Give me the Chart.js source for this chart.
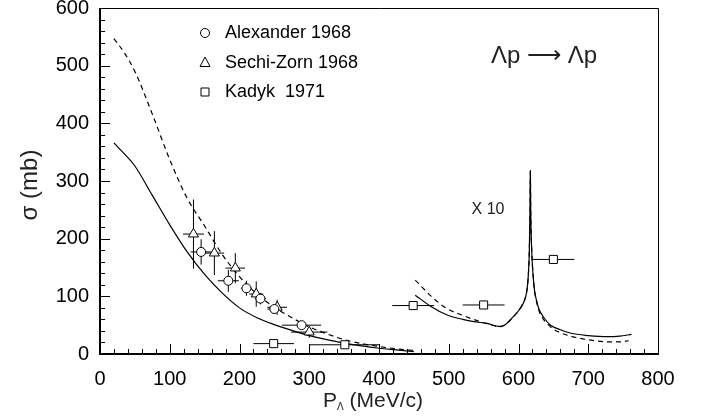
<!DOCTYPE html>
<html>
<head>
<meta charset="utf-8">
<script src="https://cdn.jsdelivr.net/npm/chart.js@4.4.1/dist/chart.umd.min.js"></script>
<style>
  html, body { margin: 0; padding: 0; background: #fff; }
</style>
</head>
<body>
<canvas id="chartSigma" width="701" height="420"></canvas>
<script>
"use strict";

/* Curvas teóricas, zona de baja energía */
var lowP      = [20, 35, 50, 75, 100, 125, 150, 175, 200, 225, 250, 275, 300, 325, 350, 375, 400, 425, 450];
var lowSolid  = [366, 347, 326, 275, 224, 177, 138, 106, 80, 63, 51, 41, 32, 25, 19, 14, 10, 7, 4];
var lowDashed = [547, 522, 490, 416, 337, 270, 222, 173, 134, 104, 81, 63, 47, 35, 25, 18, 13, 9, 6];

/* Curvas teóricas, zona x10 (resonancia) */
var highSolidP = [452, 475, 497, 520, 536, 555, 572, 580, 588, 600, 608, 612, 614, 615.5, 616.5, 617, 617.5, 619, 621, 623, 626, 629, 637, 646, 660, 675, 700, 728, 745, 762];
var highSolid  = [102, 82, 68, 60, 56, 53, 48, 50, 59, 75, 91, 110, 135, 178, 250, 318, 250, 178, 135, 110, 92, 79, 62, 50, 42, 36, 32, 30, 31, 34];
var highDashP  = [452, 475, 497, 520, 545, 560, 572, 582, 593, 605, 612, 614, 615.5, 616.5, 617, 617.5, 619, 621, 623, 626, 630, 645, 660, 675, 689, 710, 728, 745, 758];
var highDash   = [128, 100, 79, 67, 56, 51, 47, 52, 65, 85, 110, 135, 178, 250, 318, 250, 178, 135, 110, 90, 73, 48, 37, 31, 27, 23, 21, 21, 23];

/* Alexander 1968 */
var alexP  = [145, 184, 210, 230, 250, 289];
var alexS  = [177, 127, 114, 96, 78, 50];
var alexDp = [15, 15, 8, 8, 10, 28];
var alexDs = [22, 19, 13, 10, 8, 6];

/* Sechi-Zorn 1968 */
var sechiP  = [134, 164, 194, 224, 254, 300];
var sechiS  = [208, 175, 149, 104, 81, 38];
var sechiDp = [15, 14, 14, 10, 14, 26];
var sechiDs = [60, 38, 26, 22, 13, 10];

/* Kadyk 1971 */
var kadykP  = [249, 351, 449, 550, 650];
var kadykS  = [18, 16, 84, 85, 164];
var kadykDp = [29, 50, 30, 30, 30];

var legendLabels = ['Alexander 1968', 'Sechi-Zorn 1968', 'Kadyk  1971'];
var legendStyles = ['circle', 'triangle', 'rect'];

function pts(xs, ys) {
  return xs.map(function(x, i) { return { x: x, y: ys[i] }; });
}

var FONT = '"Liberation Sans", Arial, Helvetica, sans-serif';

/* barras de error: una lista por serie */
var errSets = [
  { xs: alexP,  ys: alexS,  dx: alexDp,  dy: alexDs },
  { xs: sechiP, ys: sechiS, dx: sechiDp, dy: sechiDs },
  { xs: kadykP, ys: kadykS, dx: kadykDp, dy: null }
];

function marker(ctx, style, x, y) {
  ctx.save();
  ctx.fillStyle = '#fff';
  ctx.strokeStyle = '#000';
  ctx.lineWidth = 1;
  ctx.beginPath();
  if (style === 'circle') {
    ctx.arc(x, y, 4.5, 0, Math.PI * 2);
  } else if (style === 'triangle') {
    ctx.moveTo(x, y - 6);
    ctx.lineTo(x + 5, y + 3.5);
    ctx.lineTo(x - 5, y + 3.5);
    ctx.closePath();
  } else {
    ctx.rect(x - 4, y - 4, 8, 8);
  }
  ctx.fill();
  ctx.stroke();
  ctx.restore();
}

var decor = {
  id: 'decor',
  beforeDatasetsDraw: function(chart) {
    var ctx = chart.ctx, sx = chart.scales.x, sy = chart.scales.y;
    ctx.save();
    ctx.strokeStyle = '#000';
    ctx.lineWidth = 1;
    errSets.forEach(function(s) {
      s.xs.forEach(function(x, i) {
        var px = sx.getPixelForValue(x), py = sy.getPixelForValue(s.ys[i]);
        ctx.beginPath();
        ctx.moveTo(sx.getPixelForValue(x - s.dx[i]), py);
        ctx.lineTo(sx.getPixelForValue(x + s.dx[i]), py);
        if (s.dy) {
          ctx.moveTo(px, sy.getPixelForValue(s.ys[i] - s.dy[i]));
          ctx.lineTo(px, sy.getPixelForValue(s.ys[i] + s.dy[i]));
        }
        ctx.stroke();
      });
    });
    ctx.restore();
  },
  afterDraw: function(chart) {
    var ctx = chart.ctx, a = chart.chartArea;
    var sx = chart.scales.x, sy = chart.scales.y;
    ctx.save();
    ctx.strokeStyle = '#000';

    /* marco */
    ctx.lineWidth = 1;
    ctx.beginPath();
    ctx.moveTo(a.left, a.top + 0.5);
    ctx.lineTo(a.right + 0.5, a.top + 0.5);
    ctx.lineTo(a.right + 0.5, a.bottom);
    ctx.stroke();
    ctx.lineWidth = 2;
    ctx.beginPath();
    ctx.moveTo(a.left, a.top);
    ctx.lineTo(a.left, a.bottom);
    ctx.lineTo(a.right + 1, a.bottom);
    ctx.stroke();

    /* marcas hacia dentro */
    ctx.lineWidth = 1;
    ctx.beginPath();
    var v, p, len;
    for (v = 0; v <= 800; v += 20) {
      p = Math.round(sx.getPixelForValue(v)) + 0.5;
      len = v % 100 === 0 ? 10 : 5;
      ctx.moveTo(p, a.bottom);
      ctx.lineTo(p, a.bottom - len);
    }
    for (v = 0; v <= 600; v += 20) {
      p = Math.round(sy.getPixelForValue(v)) + 0.5;
      len = v % 100 === 0 ? 10 : 5;
      ctx.moveTo(a.left, p);
      ctx.lineTo(a.left + len, p);
    }
    ctx.stroke();

    /* títulos de ejes */
    ctx.fillStyle = '#222';
    ctx.textBaseline = 'middle';
    ctx.textAlign = 'center';
    ctx.save();
    ctx.translate(30, 185);
    ctx.rotate(-Math.PI / 2);
    ctx.font = '24px ' + FONT;
    ctx.fillText('σ (mb)', 0, 0);
    ctx.restore();

    ctx.textAlign = 'left';
    ctx.textBaseline = 'alphabetic';
    var tx = 323, ty = 407;
    ctx.font = '21px ' + FONT;
    ctx.fillText('P', tx, ty);
    tx += ctx.measureText('P').width;
    ctx.font = '10px ' + FONT;
    ctx.fillText('Λ', tx, ty + 3);
    tx += ctx.measureText('Λ').width;
    ctx.font = '21px ' + FONT;
    ctx.fillText(' (MeV/c)', tx, ty);

    /* leyenda */
    ctx.font = '18px ' + FONT;
    ctx.fillStyle = '#000';
    ctx.textBaseline = 'middle';
    var ly = [33, 63, 92];
    legendLabels.forEach(function(lbl, i) {
      marker(ctx, legendStyles[i], 205, ly[i]);
      ctx.fillStyle = '#000';
      ctx.fillText(lbl, 225, ly[i]);
    });

    /* anotaciones */
    ctx.fillStyle = '#222';
    ctx.textAlign = 'center';
    ctx.font = '24px ' + FONT;
    ctx.fillText('Λp ⟶ Λp', 544, 56);
    ctx.font = '16px ' + FONT;
    ctx.fillText('X 10', 488, 210);
    ctx.restore();
  }
};

function pointSet(xs, ys, style, r) {
  return {
    type: 'scatter',
    data: pts(xs, ys),
    pointStyle: style,
    pointRadius: r,
    pointBackgroundColor: '#fff',
    pointBorderColor: '#000',
    pointBorderWidth: 1,
    showLine: false
  };
}

function curveSet(xs, ys, dash) {
  return {
    type: 'line',
    data: pts(xs, ys),
    borderColor: '#000',
    borderWidth: 1.2,
    borderDash: dash,
    pointRadius: 0,
    fill: false,
    cubicInterpolationMode: 'monotone'
  };
}

new Chart(document.getElementById('chartSigma'), {
  data: {
    datasets: [
      pointSet(alexP, alexS, 'circle', 4.5),
      pointSet(sechiP, sechiS, 'triangle', 5.8),
      pointSet(kadykP, kadykS, 'rect', 5.7),
      curveSet(lowP, lowSolid, []),
      curveSet(lowP, lowDashed, [5, 4]),
      curveSet(highSolidP, highSolid, []),
      curveSet(highDashP, highDash, [5, 4])
    ]
  },
  options: {
    responsive: false,
    animation: false,
    layout: { padding: { left: 0, right: 43, top: 8, bottom: 0 } },
    plugins: { legend: { display: false }, tooltip: { enabled: false } },
    scales: {
      x: {
        type: 'linear', min: 0, max: 800,
        grid: { display: false, drawTicks: false },
        border: { display: false },
        ticks: { stepSize: 100, padding: 13, color: '#000', font: { family: FONT, size: 20 } },
        afterFit: function(s) { s.height = 66; s.paddingLeft = 0; s.paddingRight = 0; }
      },
      y: {
        type: 'linear', min: 0, max: 600,
        grid: { display: false, drawTicks: false },
        border: { display: false },
        ticks: { stepSize: 100, padding: 11, color: '#000', font: { family: FONT, size: 20 } },
        afterFit: function(s) { s.width = 100; s.paddingTop = 0; s.paddingBottom = 0; }
      }
    }
  },
  plugins: [decor]
});
</script>
</body>
</html>
